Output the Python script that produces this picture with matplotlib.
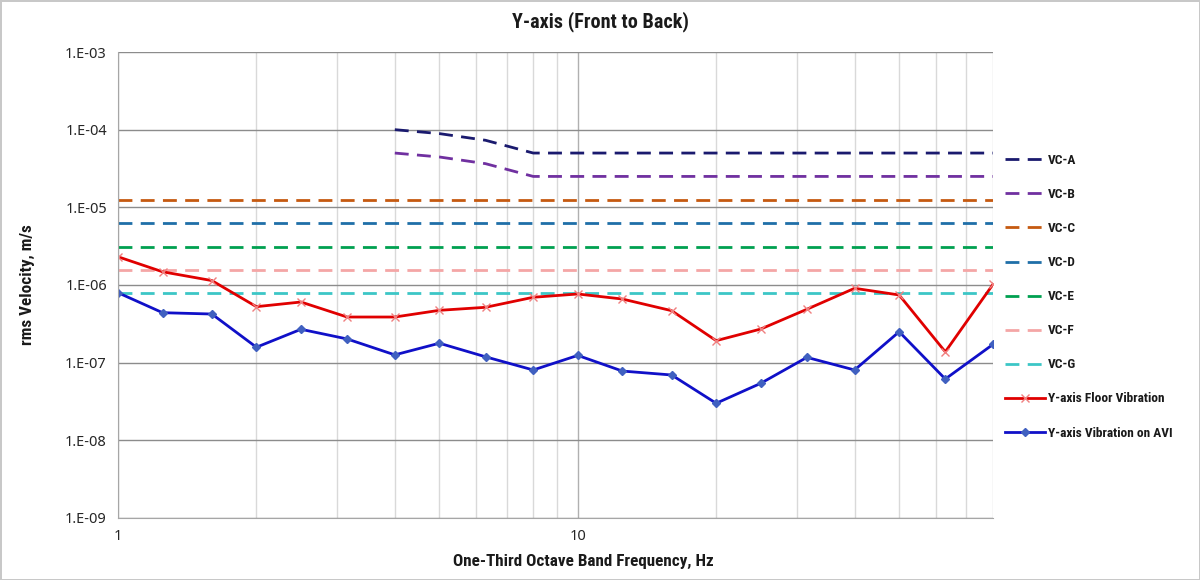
import math
import matplotlib.pyplot as plt
from matplotlib.ticker import FixedLocator, FuncFormatter, NullFormatter
from matplotlib import font_manager

# one-third octave band centre frequencies, Hz
freq = [1, 1.25, 1.6, 2, 2.5, 3.15, 4, 5, 6.3, 8, 10, 12.5, 16, 20, 25, 31.5, 40, 50, 63, 80]

# measured rms velocity, m/s
floor_vib = [2.31e-6, 1.48e-6, 1.14e-6, 5.26e-7, 6.04e-7, 3.87e-7, 3.87e-7, 4.72e-7, 5.16e-7, 6.95e-7,
             7.66e-7, 6.6e-7, 4.67e-7, 1.92e-7, 2.71e-7, 4.87e-7, 9.07e-7, 7.44e-7, 1.38e-7, 1.02e-6]
avi_vib = [7.96e-7, 4.40e-7, 4.23e-7, 1.58e-7, 2.69e-7, 2.02e-7, 1.26e-7, 1.78e-7, 1.19e-7, 8.05e-8,
           1.24e-7, 7.8e-8, 6.94e-8, 3.0e-8, 5.42e-8, 1.17e-7, 8.05e-8, 2.5e-7, 6.16e-8, 1.72e-7]

# VC criterion curves
vc_ab_freq = [4, 5, 6.3, 8, 10, 12.5, 16, 20, 25, 31.5, 40, 50, 63, 80]
vc_a = [1.0e-4, 8.9e-5, 7.3e-5, 5.0e-5, 5e-5, 5e-5, 5e-5, 5e-5, 5e-5, 5e-5, 5e-5, 5e-5, 5e-5, 5e-5]
vc_b = [5.0e-5, 4.45e-5, 3.65e-5, 2.5e-5, 2.5e-5, 2.5e-5, 2.5e-5, 2.5e-5, 2.5e-5, 2.5e-5, 2.5e-5, 2.5e-5, 2.5e-5, 2.5e-5]
vc_flat_freq = [1, 80]
vc_c = [1.25e-5, 1.25e-5]
vc_d = [6.25e-6, 6.25e-6]
vc_e = [3.12e-6, 3.12e-6]
vc_f = [1.56e-6, 1.56e-6]
vc_g = [7.8e-7, 7.8e-7]

# look for a narrow bold face, otherwise fall back to Roboto
narrow = None
for f in font_manager.fontManager.ttflist:
    if f.name in ('Liberation Sans Narrow', 'Roboto Condensed', 'Open Sans Condensed'):
        narrow = f.name
        break
if narrow is None:
    for f in font_manager.fontManager.ttflist:
        if f.name == 'DejaVu Sans' and f.stretch == 'condensed' and f.weight in (700, 'bold'):
            narrow = 'DejaVu Sans'
            break
if narrow is None:
    narrow = 'Roboto'
bold = dict(family=narrow, weight='bold', stretch='condensed')
tick_font = 'Noto Sans'

fig = plt.figure(figsize=(12, 5.8), dpi=100)
fig.patch.set_edgecolor('#c8c8c8')
fig.patch.set_linewidth(2)
ax = fig.add_axes([118 / 1200, 1 - 518 / 580, (993 - 118) / 1200, (518 - 52) / 580])

dash = (0, (5, 3))
ax.plot(vc_ab_freq, vc_a, color='#1a1a6e', lw=2, ls=dash, label='VC-A')
ax.plot(vc_ab_freq, vc_b, color='#7030a0', lw=2, ls=dash, label='VC-B')
ax.plot(vc_flat_freq, vc_c, color='#c55a11', lw=2, ls=dash, label='VC-C')
ax.plot(vc_flat_freq, vc_d, color='#1f6fa8', lw=2, ls=dash, label='VC-D')
ax.plot(vc_flat_freq, vc_e, color='#00a050', lw=2, ls=dash, label='VC-E')
ax.plot(vc_flat_freq, vc_f, color='#f4a6a6', lw=2, ls=dash, label='VC-F')
ax.plot(vc_flat_freq, vc_g, color='#3cc6c6', lw=2, ls=dash, label='VC-G')
ax.plot(freq, floor_vib, color='#e00000', lw=2, marker='x', ms=6, mec='#f08080', mew=1,
        label='Y-axis Floor Vibration')
ax.plot(freq, avi_vib, color='#1010c8', lw=2, marker='D', ms=4, mfc='#4060c0', mec='#4060c0',
        label='Y-axis Vibration on AVI')

ax.set_xscale('log')
ax.set_yscale('log')
ax.set_xlim(1, 80)
ax.set_ylim(1e-9, 1e-3)

ax.yaxis.set_major_locator(FixedLocator([1e-9, 1e-8, 1e-7, 1e-6, 1e-5, 1e-4, 1e-3]))
ax.yaxis.set_minor_locator(FixedLocator([]))
ax.yaxis.set_major_formatter(FuncFormatter(lambda v, p: '1.E-%02d' % round(-math.log10(v))))
ax.xaxis.set_major_locator(FixedLocator([1, 10]))
ax.xaxis.set_minor_locator(FixedLocator([2, 3, 4, 5, 6, 7, 8, 9, 20, 30, 40, 50, 60, 70, 80]))
ax.xaxis.set_major_formatter(FuncFormatter(lambda v, p: '%d' % v))
ax.xaxis.set_minor_formatter(NullFormatter())

ax.grid(True, which='major', axis='y', color='#8c8c8c', lw=1)
ax.grid(True, which='major', axis='x', color='#b0b0b0', lw=1)
ax.grid(True, which='minor', axis='x', color='#d9d9d9', lw=1)
ax.set_axisbelow(True)
ax.tick_params(which='both', length=0, labelsize=10.5, colors='#262626', pad=8)
for lbl in ax.get_xticklabels() + ax.get_yticklabels():
    lbl.set_fontfamily(tick_font)
for side in ['top', 'right']:
    ax.spines[side].set_visible(False)
ax.spines['left'].set_color('#a6a6a6')
ax.spines['bottom'].set_color('#a6a6a6')

fig.text(0.5, 1 - 22 / 580, 'Y-axis (Front to Back)', ha='center', va='center',
         fontsize=14.5, color='#1a1a1a', **bold)
fig.text(583 / 1200, 1 - 561 / 580, 'One-Third Octave Band Frequency, Hz', ha='center', va='center',
         fontsize=12.3, color='#1a1a1a', **bold)
fig.text(27 / 1200, 1 - 285 / 580, 'rms Velocity, m/s', ha='center', va='center', rotation=90,
         fontsize=12.3, color='#1a1a1a', **bold)

leg = ax.legend(loc='upper left', bbox_to_anchor=(993 / 1200, 1 - 142 / 580), bbox_transform=fig.transFigure,
                frameon=False, labelspacing=1.58, handlelength=3.0, handletextpad=0.2,
                prop={'family': narrow, 'weight': 'bold', 'stretch': 'condensed', 'size': 9.6})
for t in leg.get_texts():
    t.set_color('#1a1a1a')

fig.savefig('out.png', dpi=100)
